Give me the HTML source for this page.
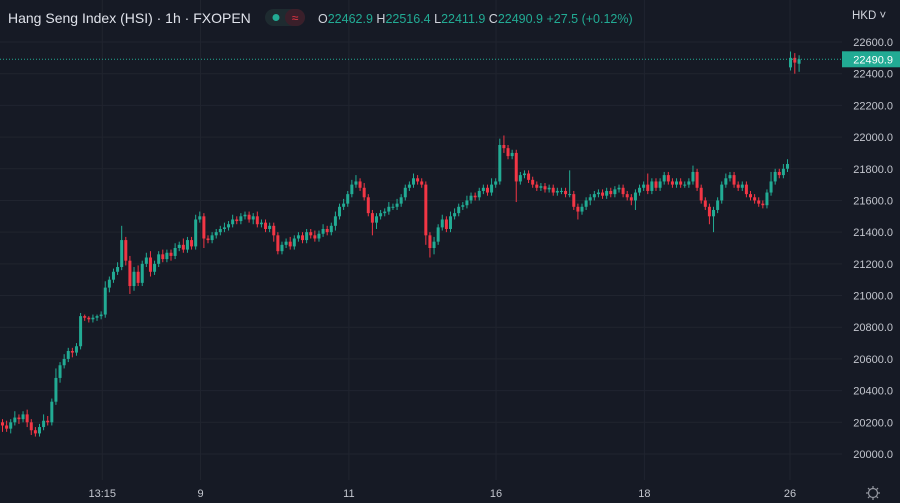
<!DOCTYPE html>
<html><head><meta charset="utf-8">
<style>
html,body{margin:0;padding:0;background:#161a25;}
body{width:900px;height:503px;overflow:hidden;font-family:"Liberation Sans",sans-serif;}
svg{display:block}
</style></head>
<body>
<svg id="chart" width="900" height="503">
  <rect x="0" y="0" width="900" height="503" fill="#161a25"/>
  <g id="grid"></g>
  <g id="candles"></g>
  <g id="yaxis"></g>
  <g id="xaxis"></g>
  <text x="8" y="23" fill="#e0e3eb" font-size="14">Hang Seng Index (HSI) · 1h · FXOPEN</text>
  <g>
    <rect x="265" y="9" width="40" height="17" rx="8.5" fill="#1e2b30"/>
    <rect x="285" y="9" width="20" height="17" rx="8.5" fill="#3a1f2a"/>
    <circle cx="276" cy="17.5" r="3.5" fill="#22ab94"/>
    <text x="295" y="22" fill="#f23645" font-size="12" text-anchor="middle">≈</text>
  </g>
  <text x="318" y="23" font-size="12.5"><tspan fill="#d1d4dc">O</tspan><tspan fill="#22ab94">22462.9 </tspan><tspan fill="#d1d4dc">H</tspan><tspan fill="#22ab94">22516.4 </tspan><tspan fill="#d1d4dc">L</tspan><tspan fill="#22ab94">22411.9 </tspan><tspan fill="#d1d4dc">C</tspan><tspan fill="#22ab94">22490.9 +27.5 (+0.12%)</tspan></text>
  <text x="852" y="19" fill="#d1d4dc" font-size="11.5">HKD ˅</text>
  <g>
    <circle cx="873" cy="493" r="4.5" fill="none" stroke="#9598a1" stroke-width="1.2"/>
    <path d="M873 486v2M873 498v2M866 493h2M878 493h2M868 488l1.4 1.4M876.6 496.6l1.4 1.4M868 498l1.4-1.4M876.6 489.4l1.4-1.4" stroke="#9598a1" stroke-width="1.2"/>
  </g>
</svg>
<script>
const yTicks=[20000,20200,20400,20600,20800,21000,21200,21400,21600,21800,22000,22200,22400,22600];
const timeLabels=["13:15","9","11","16","18"];
const timeLabelIndex=[24.4,48.3,84.4,120.2,156.3];
const lastDayLabel="26";
const closes=[20180,20160,20200,20230,20220,20250,20200,20150,20130,20170,20210,20200,20330,
20480,20560,20600,20650,20640,20680,
20870,20860,20850,20860,20870,20880,
21050,21100,21150,21180,21350,
21220,21060,21150,21080,21200,21240,21150,21200,21260,
21230,21270,21250,21300,21320,21290,21350,21310,
21480,21500,21360,21350,
21380,21400,21420,21430,21450,21480,21470,21500,21510,21480,
21500,21450,21460,21420,21440,21380,
21280,21320,21340,21310,21360,21380,21350,21400,21380,21360,21390,21420,21400,21440,
21500,21560,21580,21640,21700,21720,
21680,21620,21520,21460,
21500,21520,21530,21560,21560,21580,21620,21680,
21700,21740,21720,21700,21380,
21300,21340,21430,21480,21420,21500,21520,
21560,21570,21600,21630,21620,21660,21680,21650,21700,21720,
21950,21930,21880,21900,
21720,21760,21770,
21730,21700,21680,21690,21670,21680,21650,21660,21660,21640,21640,
21560,21530,21560,21600,
21620,21640,21650,21630,21660,21640,21670,21680,21640,21620,
21600,21650,21680,21700,21660,21720,21680,21720,
21760,21720,21700,21720,21700,21700,21720,21780,
21680,21600,21560,21500,21540,21600,21700,
21740,21760,21700,21680,21700,21640,
21620,21600,21580,21570,21650,
21720,21780,21760,21800,21830];
const wickUp=[20,30,20,40,20,20,30,20,20,20,40,30,20,
60,20,30,20,20,20,
20,10,10,20,10,20,
40,20,20,30,90,
20,30,30,40,20,30,40,20,20,
30,20,20,30,20,40,20,20,
30,30,20,20,
20,20,20,30,20,30,20,20,20,20,
20,30,20,20,20,20,
20,20,20,30,20,20,20,20,20,30,20,30,20,20,
30,20,30,20,30,40,
20,30,20,20,
20,20,20,30,20,30,20,20,
20,30,20,20,20,
20,30,20,30,20,30,30,
20,20,30,20,20,20,20,20,40,20,
40,60,20,20,
20,20,20,
20,20,20,20,20,20,20,20,20,20,150,
20,20,20,20,
20,20,20,20,20,20,20,20,20,20,
20,20,20,20,70,20,20,20,
20,20,20,20,20,20,20,40,
20,20,20,20,20,20,20,
30,20,20,20,20,20,
20,20,20,20,20,
60,20,20,30,30];
const wickDown=[40,20,30,20,30,20,30,30,20,20,20,20,20,
20,30,20,20,30,20,
20,20,20,20,20,20,
20,30,20,20,20,
30,50,30,20,20,20,30,20,20,
20,20,30,20,20,20,20,20,
20,20,60,20,
20,20,20,20,20,20,20,20,20,20,
30,20,20,20,20,40,
20,20,20,20,20,20,20,20,20,20,20,20,20,20,
30,20,20,20,20,20,
20,20,20,80,
40,20,20,20,20,20,20,20,
20,20,20,20,60,
60,40,20,20,20,20,20,
20,20,20,20,20,20,20,20,20,20,
20,30,20,20,
130,20,20,
20,20,20,20,20,20,20,20,20,20,20,
20,50,20,20,
30,20,20,20,20,20,20,20,20,20,
30,60,20,20,20,20,20,20,
20,20,20,20,20,20,20,20,
20,20,20,50,100,20,20,
20,20,20,20,20,20,
20,20,20,20,20,
20,20,20,20,20];
const firstOpen=20200;
const day26Opens=[22440,22500,22462.9];
const day26Closes=[22500,22470,22490.9];
const day26Highs=[22540,22530,22516.4];
const day26Lows=[22420,22400,22411.9];
const lastPrice=22490.9;

const NS="http://www.w3.org/2000/svg";
const plotRight=842;
const step=785/(closes.length-1);
function yScale(v){return 42+(22600-v)*(412/2600);}
function xScale(i){return 2+i*step;}
function mk(tag,attrs,parent){const e=document.createElementNS(NS,tag);for(const k in attrs)e.setAttribute(k,attrs[k]);parent.appendChild(e);return e;}
const grid=document.getElementById('grid'),cg=document.getElementById('candles'),ya=document.getElementById('yaxis'),xa=document.getElementById('xaxis');
yTicks.forEach(t=>{
  const y=yScale(t);
  const l=mk('line',{x1:0,x2:plotRight,y1:y,y2:y,stroke:'#20242f','stroke-width':1},grid);
  
  
  const tx=mk('text',{x:893,y:y+4,fill:'#c3c6ce','font-size':11,'text-anchor':'end'},ya);
  tx.textContent=t.toFixed(1);
  
  
});
function vLabel(x,lab){
  const l=mk('line',{x1:x,x2:x,y1:0,y2:480,stroke:'#20242f','stroke-width':1},grid);
  
  
  const tx=mk('text',{x:x,y:497,fill:'#c3c6ce','font-size':11,'text-anchor':'middle'},xa);
  tx.textContent=lab;
  
  
}
timeLabels.forEach((lab,k)=>vLabel(xScale(timeLabelIndex[k]),lab));
vLabel(790,lastDayLabel);
function candle(x,o,c,h,l){
  const up=c>=o,col=up?'#22ab94':'#f23645';
  const g=mk('g',{},cg);
  
  
  mk('line',{x1:x,x2:x,y1:yScale(h),y2:yScale(l),stroke:col,'stroke-width':1},g);
  const top=yScale(Math.max(o,c)),bot=yScale(Math.min(o,c));
  mk('rect',{x:x-1.5,y:top,width:3,height:Math.max(1,bot-top),fill:col},g);
}
let prev=firstOpen;
closes.forEach((c,i)=>{
  const o=prev;
  candle(xScale(i)+0.5,o,c,Math.max(o,c)+wickUp[i],Math.min(o,c)-wickDown[i]);
  prev=c;
});
day26Closes.forEach((c,k)=>candle(790.5+k*4.3,day26Opens[k],c,day26Highs[k],day26Lows[k]));
const ly=yScale(lastPrice);
const pl=mk('line',{x1:0,x2:842,y1:ly,y2:ly,stroke:'#22ab94','stroke-width':1,'stroke-dasharray':'1 2'},cg);


const bx=mk('rect',{x:842,y:ly-8,width:58,height:16,fill:'#22ab94'},ya);


const bt=mk('text',{x:893,y:ly+4,fill:'#ffffff','font-size':11,'text-anchor':'end'},ya);
bt.textContent=lastPrice.toFixed(1);


</script>
</body></html>
